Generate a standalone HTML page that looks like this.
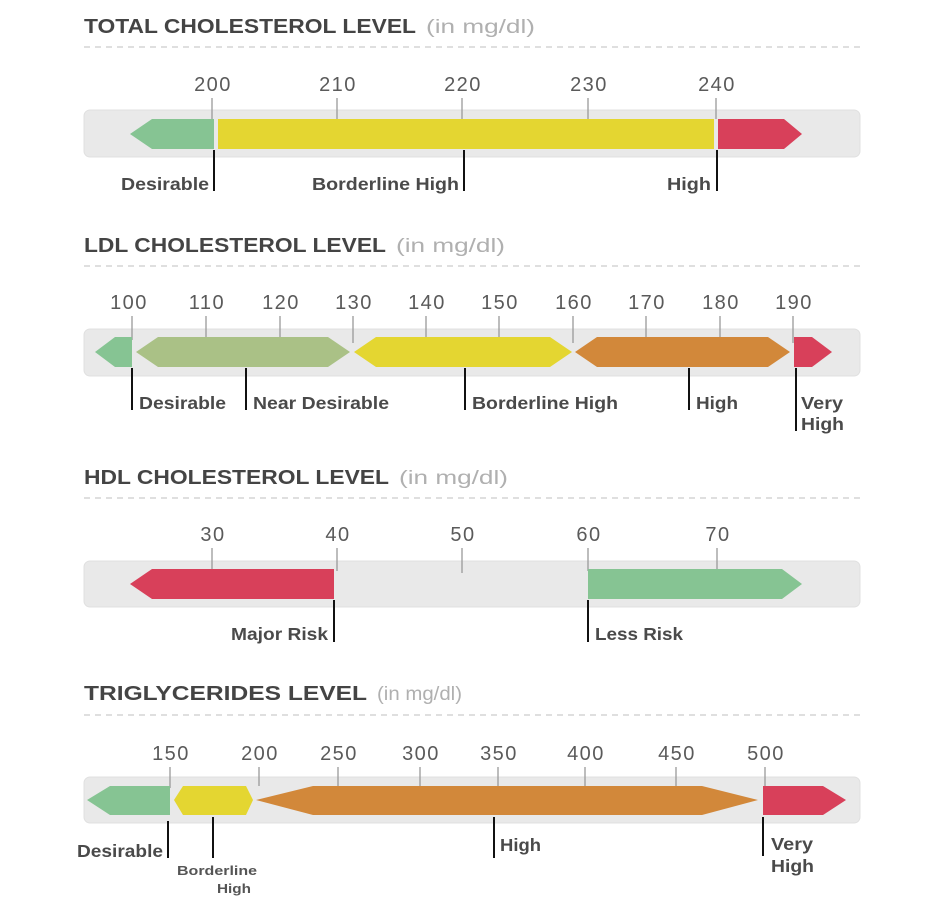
<!DOCTYPE html>
<html><head><meta charset="utf-8"><style>
html,body{margin:0;padding:0;background:#fff;}
svg{display:block;}
.t{font-family:"Liberation Sans",sans-serif;font-weight:bold;font-size:20px;fill:#444;}
.u{font-family:"Liberation Sans",sans-serif;font-weight:normal;font-size:19px;fill:#b0b0b0;}
.k{font-family:"Liberation Sans",sans-serif;font-size:20px;fill:#5a5a5a;text-anchor:middle;letter-spacing:1.5px;}
.l{font-family:"Liberation Sans",sans-serif;font-weight:bold;font-size:17.5px;fill:#4a4a4a;}
.s{font-family:"Liberation Sans",sans-serif;font-weight:bold;font-size:13px;fill:#555;text-anchor:middle;}
.d{stroke:#ccc;stroke-width:1.3;stroke-dasharray:6,5;}
.tk{stroke:#999;stroke-width:1.3;}
.m{stroke:#111;stroke-width:2;}
.bg{fill:#e9e9e9;stroke:#e0e0e0;}
</style></head><body>
<svg width="938" height="916" viewBox="0 0 938 916" xmlns="http://www.w3.org/2000/svg">
<!-- Section 1 -->
<text x="84" y="33" class="t" textLength="332" lengthAdjust="spacingAndGlyphs">TOTAL CHOLESTEROL LEVEL</text>
<text x="426" y="33" class="u" textLength="109" lengthAdjust="spacingAndGlyphs">(in mg/dl)</text>
<line x1="84" y1="47" x2="862" y2="47" class="d"/>
<rect x="84" y="110" width="776" height="47" rx="6" class="bg"/>
<g class="k"><text x="213" y="91">200</text><text x="338" y="91">210</text><text x="463" y="91">220</text><text x="589" y="91">230</text><text x="717" y="91">240</text></g>
<g class="tk"><line x1="337" y1="98" x2="337" y2="119"/><line x1="462" y1="98" x2="462" y2="119"/><line x1="588" y1="98" x2="588" y2="119"/><line x1="212" y1="98" x2="212" y2="119"/><line x1="716" y1="98" x2="716" y2="119"/></g>
<polygon points="130,134 152,119 214,119 214,149 152,149" fill="#86c493"/>
<rect x="218" y="119" width="496" height="30" fill="#e4d631"/>
<polygon points="718,119 784,119 802,134 784,149 718,149" fill="#d8405a"/>
<g class="m"><line x1="214" y1="150" x2="214" y2="191"/><line x1="464" y1="150" x2="464" y2="191"/><line x1="717" y1="150" x2="717" y2="191"/></g>
<text x="121" y="190" class="l" textLength="88" lengthAdjust="spacingAndGlyphs">Desirable</text>
<text x="312" y="190" class="l" textLength="147" lengthAdjust="spacingAndGlyphs">Borderline High</text>
<text x="667" y="190" class="l" textLength="44" lengthAdjust="spacingAndGlyphs">High</text>

<!-- Section 2 -->
<text x="84" y="252" class="t" textLength="302" lengthAdjust="spacingAndGlyphs">LDL CHOLESTEROL LEVEL</text>
<text x="396" y="252" class="u" textLength="109" lengthAdjust="spacingAndGlyphs">(in mg/dl)</text>
<line x1="84" y1="266" x2="862" y2="266" class="d"/>
<rect x="84" y="329" width="776" height="47" rx="6" class="bg"/>
<g class="k"><text x="129" y="309">100</text><text x="207" y="309">110</text><text x="281" y="309">120</text><text x="354" y="309">130</text><text x="427" y="309">140</text><text x="500" y="309">150</text><text x="574" y="309">160</text><text x="647" y="309">170</text><text x="721" y="309">180</text><text x="794" y="309">190</text></g>
<g class="tk"><line x1="132" y1="316" x2="132" y2="340"/><line x1="206" y1="316" x2="206" y2="340"/><line x1="280" y1="316" x2="280" y2="340"/><line x1="353" y1="316" x2="353" y2="343"/><line x1="426" y1="316" x2="426" y2="340"/><line x1="499" y1="316" x2="499" y2="340"/><line x1="573" y1="316" x2="573" y2="343"/><line x1="646" y1="316" x2="646" y2="340"/><line x1="720" y1="316" x2="720" y2="340"/><line x1="793" y1="316" x2="793" y2="343"/></g>
<polygon points="95,352 115,337 132,337 132,367 115,367" fill="#86c493"/>
<polygon points="136,352 158,337 328,337 350,352 328,367 158,367" fill="#aac186"/>
<polygon points="354,352 376,337 550,337 572,352 550,367 376,367" fill="#e4d631"/>
<polygon points="575,352 597,337 768,337 790,352 768,367 597,367" fill="#d2883a"/>
<polygon points="794,337 812,337 832,352 812,367 794,367" fill="#d8405a"/>
<g class="m"><line x1="132" y1="368" x2="132" y2="410"/><line x1="246" y1="368" x2="246" y2="410"/><line x1="465" y1="368" x2="465" y2="410"/><line x1="689" y1="368" x2="689" y2="410"/><line x1="796" y1="368" x2="796" y2="431"/></g>
<text x="139" y="409" class="l" textLength="87" lengthAdjust="spacingAndGlyphs">Desirable</text>
<text x="253" y="409" class="l" textLength="136" lengthAdjust="spacingAndGlyphs">Near Desirable</text>
<text x="472" y="409" class="l" textLength="146" lengthAdjust="spacingAndGlyphs">Borderline High</text>
<text x="696" y="409" class="l" textLength="42" lengthAdjust="spacingAndGlyphs">High</text>
<text x="801" y="409" class="l" textLength="42" lengthAdjust="spacingAndGlyphs">Very</text>
<text x="801" y="430" class="l" textLength="43" lengthAdjust="spacingAndGlyphs">High</text>

<!-- Section 3 -->
<text x="84" y="484" class="t" textLength="305" lengthAdjust="spacingAndGlyphs">HDL CHOLESTEROL LEVEL</text>
<text x="399" y="484" class="u" textLength="109" lengthAdjust="spacingAndGlyphs">(in mg/dl)</text>
<line x1="84" y1="498" x2="862" y2="498" class="d"/>
<rect x="84" y="561" width="776" height="46" rx="6" class="bg"/>
<g class="k"><text x="213" y="541">30</text><text x="338" y="541">40</text><text x="463" y="541">50</text><text x="589" y="541">60</text><text x="718" y="541">70</text></g>
<g class="tk"><line x1="212" y1="548" x2="212" y2="571"/><line x1="337" y1="548" x2="337" y2="571"/><line x1="462" y1="548" x2="462" y2="573"/><line x1="588" y1="548" x2="588" y2="571"/><line x1="717" y1="548" x2="717" y2="571"/></g>
<polygon points="130,584 152,569 334,569 334,599 152,599" fill="#d8405a"/>
<polygon points="588,569 782,569 802,584 782,599 588,599" fill="#86c493"/>
<g class="m"><line x1="334" y1="600" x2="334" y2="642"/><line x1="588" y1="600" x2="588" y2="642"/></g>
<text x="231" y="640" class="l" textLength="97" lengthAdjust="spacingAndGlyphs">Major Risk</text>
<text x="595" y="640" class="l" textLength="88" lengthAdjust="spacingAndGlyphs">Less Risk</text>

<!-- Section 4 -->
<text x="84" y="700" class="t" textLength="283" lengthAdjust="spacingAndGlyphs">TRIGLYCERIDES  LEVEL</text>
<text x="377" y="700" class="u" textLength="85" lengthAdjust="spacingAndGlyphs">(in mg/dl)</text>
<line x1="84" y1="715" x2="862" y2="715" class="d"/>
<rect x="84" y="777" width="776" height="46" rx="6" class="bg"/>
<g class="k"><text x="171" y="760">150</text><text x="260" y="760">200</text><text x="339" y="760">250</text><text x="421" y="760">300</text><text x="499" y="760">350</text><text x="586" y="760">400</text><text x="677" y="760">450</text><text x="766" y="760">500</text></g>
<g class="tk"><line x1="170" y1="767" x2="170" y2="788"/><line x1="259" y1="767" x2="259" y2="786"/><line x1="338" y1="767" x2="338" y2="788"/><line x1="420" y1="767" x2="420" y2="788"/><line x1="498" y1="767" x2="498" y2="788"/><line x1="585" y1="767" x2="585" y2="788"/><line x1="676" y1="767" x2="676" y2="788"/><line x1="765" y1="767" x2="765" y2="788"/></g>
<polygon points="87,800 110,786 170,786 170,815 110,815" fill="#86c493"/>
<polygon points="174,800 183,786 246,786 253,800 246,815 183,815" fill="#e4d631"/>
<polygon points="256,800 313,786 702,786 758,800 702,815 313,815" fill="#d2883a"/>
<polygon points="763,786 823,786 846,800 823,815 763,815" fill="#d8405a"/>
<g class="m"><line x1="168" y1="821" x2="168" y2="858"/><line x1="213" y1="817" x2="213" y2="858"/><line x1="494" y1="817" x2="494" y2="858"/><line x1="763" y1="817" x2="763" y2="856"/></g>
<text x="77" y="857" class="l" textLength="86" lengthAdjust="spacingAndGlyphs">Desirable</text>
<text x="217" y="875" class="s" textLength="80" lengthAdjust="spacingAndGlyphs">Borderline</text>
<text x="234" y="893" class="s" textLength="34" lengthAdjust="spacingAndGlyphs">High</text>
<text x="500" y="851" class="l" textLength="41" lengthAdjust="spacingAndGlyphs">High</text>
<text x="771" y="850" class="l" textLength="42" lengthAdjust="spacingAndGlyphs">Very</text>
<text x="771" y="872" class="l" textLength="43" lengthAdjust="spacingAndGlyphs">High</text>
</svg>
</body></html>
